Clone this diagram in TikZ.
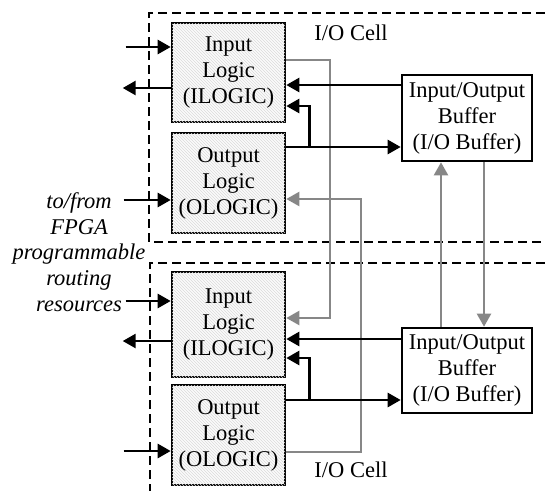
\documentclass[tikz,border=0pt]{standalone}
\usepackage{fontspec}
\setmainfont{Liberation Serif}
\usetikzlibrary{arrows.meta,patterns}
\definecolor{lgray}{RGB}{135,135,135}
\begin{document}
\begin{tikzpicture}[x=1pt,y=-1pt,
  every node/.style={font=\fontsize{22.5}{26}\selectfont, align=center},
  logicbox/.style={draw, line width=2.6pt, minimum width=113pt, inner sep=0pt,
    fill=gray!3, postaction={pattern=north west lines, pattern color=gray!28}},
  iobox/.style={draw, line width=2.6pt, minimum width=130pt, fill=white, inner sep=0pt},
  arr/.style={line width=2.6pt, -{Triangle[length=13pt,width=14pt]}},
  garr/.style={line width=2.2pt, draw=lgray, -{Triangle[length=13pt,width=14pt]}, color=lgray},
  dashline/.style={line width=2.2pt, dash pattern=on 9pt off 5pt}]
\useasboundingbox (0,0) rectangle (545,491);
% dashed cell outlines
\draw[dashline] (545,13) -| (149,242) -- (545,242);
\draw[dashline] (545,263) -| (150,491);
% nodes
\node[logicbox, minimum height=99pt] (il1) at (228.5,72.5) {Input\\Logic\\(ILOGIC)};
\node[logicbox, minimum height=100pt] (ol1) at (228.5,183) {Output\\Logic\\(OLOGIC)};
\node[logicbox, minimum height=105pt] (il2) at (228.5,324.5) {Input\\Logic\\(ILOGIC)};
\node[logicbox, minimum height=100pt] (ol2) at (228.5,435) {Output\\Logic\\(OLOGIC)};
\node[iobox, minimum height=86pt] (iob1) at (467,118) {Input/Output\\Buffer\\(I/O Buffer)};
\node[iobox, minimum height=85pt] (iob2) at (467,370.5) {Input/Output\\Buffer\\(I/O Buffer)};
\node (cell1) at (351,33) {I/O Cell};
\node (cell2) at (351,470) {I/O Cell};
\node[font=\fontsize{22.5}{25.7}\selectfont\itshape] (fpga) at (79,252) {to/from\\FPGA\\programmable\\routing\\resources};
% gray connectors (between cells)
\draw[garr] ([yshift=12.5pt]il1.east) -- ++(44,0) |- ([yshift=6.5pt]il2.east);
\draw[garr] ([yshift=-17pt]ol2.east) -- ++(75,0) |- ([yshift=-16pt]ol1.east);
\draw[garr] ([xshift=-26pt]iob2.north) -- ([xshift=-26pt]iob1.south);
\draw[garr] ([xshift=17pt]iob1.south) -- ([xshift=17pt]iob2.north);
% top cell
\draw[arr] ([yshift=25.5pt,xshift=-45pt]il1.west) -- ([yshift=25.5pt]il1.west);
\draw[arr] ([yshift=-15.5pt]il1.west) -- ([yshift=-15.5pt,xshift=-48pt]il1.west);
\draw[arr] ([yshift=33pt]iob1.west) coordinate (a1) -- (a1 -| il1.east);
\draw[arr] ([yshift=36pt]ol1.east) coordinate (o1) -- (o1 -| iob1.west);
\draw[arr] ([xshift=23pt]o1) |- ([yshift=-33.5pt]il1.east);
\draw[arr] ([yshift=-17pt,xshift=-47pt]ol1.west) -- ([yshift=-17pt]ol1.west);
% bottom cell
\draw[arr] ([yshift=23.5pt,xshift=-45pt]il2.west) -- ([yshift=23.5pt]il2.west);
\draw[arr] ([yshift=-16.5pt]il2.west) -- ([yshift=-16.5pt,xshift=-48pt]il2.west);
\draw[arr] ([yshift=31.5pt]iob2.west) coordinate (a2) -- (a2 -| il2.east);
\draw[arr] ([yshift=35pt]ol2.east) coordinate (o2) -- (o2 -| iob2.west);
\draw[arr] ([xshift=23pt]o2) |- ([yshift=-33.5pt]il2.east);
\draw[arr] ([yshift=-16pt,xshift=-47pt]ol2.west) -- ([yshift=-16pt]ol2.west);
\end{tikzpicture}
\end{document}
